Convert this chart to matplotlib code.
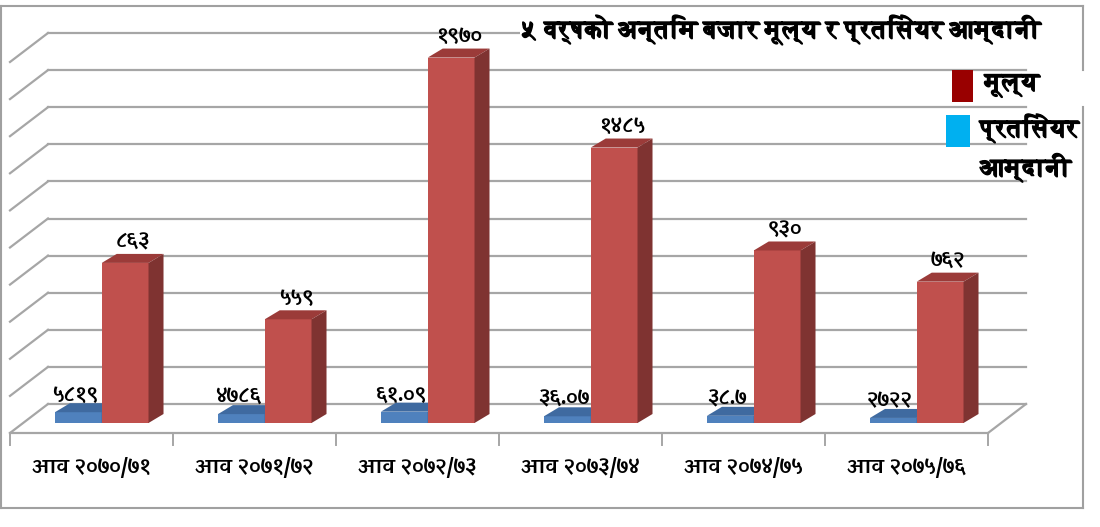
import matplotlib
matplotlib.use('Agg')
import matplotlib.pyplot as plt
import matplotlib.patheffects as pe
from matplotlib.patches import Polygon, Rectangle
from matplotlib.lines import Line2D

##

# data
years = ['आव २०७०/७१', 'आव २०७१/७२', 'आव २०७२/७३', 'आव २०७३/७४', 'आव २०७४/७५', 'आव २०७५/७६']
price = [863, 559, 1970, 1485, 930, 762]
eps = [58.19, 47.86, 61.09, 36.07, 38.7, 27.22]
price_labels = ['८६३', '५५९', '१९७०', '१४८५', '९३०', '७६२']
eps_labels = ['५८१९', '४७८६', '६१.०९', '३६.०७', '३८.७', '२७२२']
title = '५ वर्षको अन्तिम बजार मूल्य र प्रतिसेयर आम्दानी'
legend_names = ['मूल्य', 'प्रतिसेयर\nआम्दानी']
ymax = 2000
ystep = 200

# fonts with devanagari glyphs (google-fonts / freefont)
serif_fam = ['FreeSerif', 'DejaVu Sans']
sans_fam = ['Amiko', 'FreeSans', 'DejaVu Sans']
plt.rcParams['font.family'] = sans_fam

W, H = 1100, 527
fig = plt.figure(figsize=(W / 100, H / 100), dpi=100)

# plot area = front plane of the floor
left, bottom, width, height = 10, 433, 978, 371
ax = fig.add_axes([left / W, (H - bottom) / H, width / W, height / H])
ax.set_xlim(0, len(years))
ax.set_ylim(0, ymax)
ax.axis('off')

# pixel -> data unit
ux = len(years) / width
uy = ymax / height

wall_dx, wall_dy = 38 * ux, 29 * uy    # back wall depth
plane_dx, plane_dy = 13 * ux, 10 * uy  # front of bars
bar_dx, bar_dy = 15 * ux, 9 * uy       # depth of a bar

grid_col = '#a6a6a6'
n = len(years)

# gridlines on back and side walls
v = 0
while v <= ymax:
    ax.plot([wall_dx, n + wall_dx], [v + wall_dy, v + wall_dy], color=grid_col, lw=1.6,
            clip_on=False, zorder=1)
    ax.plot([0, wall_dx], [v, v + wall_dy], color=grid_col, lw=1.6, clip_on=False, zorder=1)
    v += ystep

# floor
ax.plot([0, n], [0, 0], color=grid_col, lw=1.6, clip_on=False, zorder=1)
ax.plot([n, n + wall_dx], [0, wall_dy], color=grid_col, lw=1.6, clip_on=False, zorder=1)
for i in range(n + 1):
    ax.plot([i, i], [0, -12 * uy], color=grid_col, lw=1.4, clip_on=False, zorder=1)


def bar3d(x0, w, val, front, top, side):
    x0 = x0 + plane_dx
    y0 = plane_dy
    y1 = plane_dy + val
    ax.add_patch(Polygon([(x0, y0), (x0 + w, y0), (x0 + w, y1), (x0, y1)],
                         closed=True, fc=front, ec='none', zorder=3, clip_on=False))
    ax.add_patch(Polygon([(x0, y1), (x0 + w, y1), (x0 + w + bar_dx, y1 + bar_dy),
                          (x0 + bar_dx, y1 + bar_dy)],
                         closed=True, fc=top, ec='none', zorder=3, clip_on=False))
    ax.add_patch(Polygon([(x0 + w, y0), (x0 + w + bar_dx, y0 + bar_dy),
                          (x0 + w + bar_dx, y1 + bar_dy), (x0 + w, y1)],
                         closed=True, fc=side, ec='none', zorder=3, clip_on=False))


bw = 0.287
for i in range(n):
    bx = i + 0.196
    rx = i + 0.483
    bar3d(bx, bw, eps[i], '#4f81bd', '#3f6aa0', '#36598a')
    bar3d(rx, bw, price[i], '#c0504d', '#9b3b39', '#7f3331')
    ax.text(bx + plane_dx + bw / 2 - 0.02, plane_dy + eps[i] + 17 * uy, eps_labels[i],
            ha='center', va='center', fontsize=14, fontweight='bold', zorder=5)
    ax.text(rx + plane_dx + bw / 2 + 0.05, plane_dy + price[i] + 21 * uy, price_labels[i],
            ha='center', va='center', fontsize=14, fontweight='bold', zorder=5)
    ax.text(i + 0.5, -34 * uy, years[i], ha='center', va='center', fontsize=14,
            fontweight='bold', zorder=5)

# outer frame
fc = '#a0a0a0'
fig.add_artist(Line2D([1 / W, 1083 / W], [1 - 6 / H, 1 - 6 / H], color=fc, lw=1.5))
fig.add_artist(Line2D([1 / W, 1083 / W], [1 - 508 / H, 1 - 508 / H], color=fc, lw=1.5))
fig.add_artist(Line2D([1 / W, 1 / W], [1 - 6 / H, 1 - 508 / H], color=fc, lw=1.5))
fig.add_artist(Line2D([1083 / W, 1083 / W], [1 - 6 / H, 1 - 70 / H], color=fc, lw=1.5))
fig.add_artist(Line2D([1083 / W, 1083 / W], [1 - 107 / H, 1 - 508 / H], color=fc, lw=1.5))

# heavier strokes for the serif texts
heavy = [pe.withStroke(linewidth=0.9, foreground='black')]

# title
fig.text(783 / W, 1 - 30 / H, title, ha='center', va='center', fontsize=18,
         fontweight='bold', family=serif_fam, bbox=dict(fc='white', ec='none', pad=2),
         zorder=6, path_effects=heavy)

# legend
fig.add_artist(Rectangle((952 / W, 1 - 102 / H), 21 / W, 32 / H, fc='#990000', ec='none',
                         transform=fig.transFigure))
fig.add_artist(Rectangle((946 / W, 1 - 147 / H), 24 / W, 32 / H, fc='#00b0f0', ec='none',
                         transform=fig.transFigure))
fig.text(985 / W, 1 - 86 / H, legend_names[0], ha='left', va='center', fontsize=18,
         fontweight='bold', family=serif_fam, path_effects=heavy)
fig.text(980 / W, 1 - 148 / H, legend_names[1], ha='left', va='center', fontsize=18,
         fontweight='bold', family=serif_fam, linespacing=1.4, path_effects=heavy)

fig.savefig('out.png', dpi=100, facecolor='white')
